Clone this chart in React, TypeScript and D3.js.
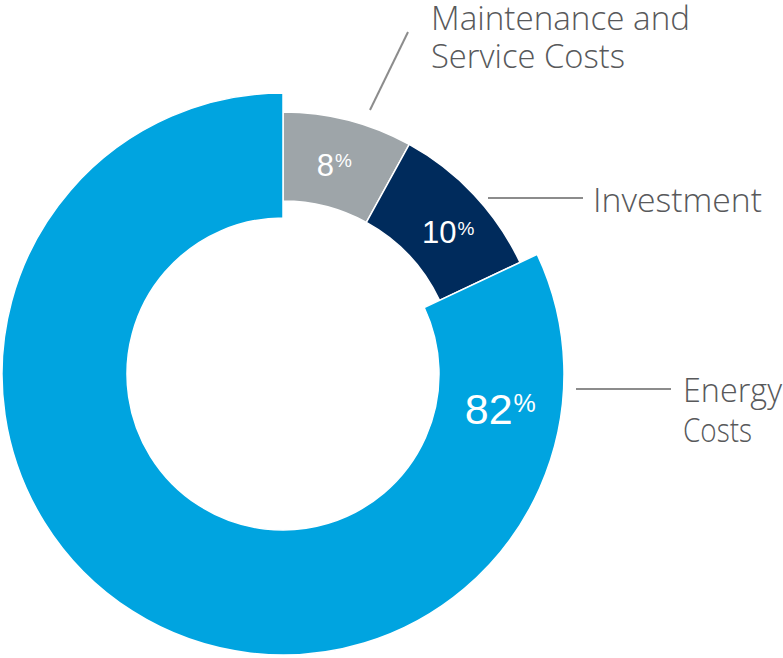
import React from "react";
import * as d3 from "d3";

const categories = ["Maintenance and Service Costs", "Investment", "Energy Costs"];
const values = [8, 10, 82];
const valueLabels = ["8", "10", "82"];
const legendLines = [["Maintenance and", "Service Costs"], ["Investment"], ["Energy", "Costs"]];

const W = 783;
const H = 658;
const cx = 283;
const cy = 374;

const colors = ["#9ea5a9", "#002b5c", "#00a4e0"];
const radii = [
  { inner: 173, outer: 262 },
  { inner: 173, outer: 262 },
  { inner: 156, outer: 281 },
];
const valueStyle = [
  { angle: 13.8, r: 215, fs: 31, pfs: 19, pdy: -9, pdx: 1 },
  { angle: 49.3, r: 218, fs: 31, pfs: 19, pdy: -8, pdx: 1 },
  { angle: 99, r: 220, fs: 43, pfs: 25, pdy: -12, pdx: 1 },
];
// leader lines and label text positions
const leaders = [
  { x1: 370, y1: 110, x2: 408, y2: 32, tx: 431, ty: 30, lh: 38, widths: [259, 194] },
  { x1: 488, y1: 198, x2: 583, y2: 198, tx: 593, ty: 212, lh: 38, widths: [169] },
  { x1: 576, y1: 389, x2: 671, y2: 389, tx: 683, ty: 402, lh: 40, widths: [99, 69] },
];

export default function App() {
  const pie = d3.pie<number>().sort(null).startAngle(0).endAngle(2 * Math.PI);
  const arcs = pie(values);

  return (
    <svg
      width={W}
      height={H}
      viewBox={`0 0 ${W} ${H}`}
      style={{ position: "absolute", left: 0, top: 0, display: "block", background: "#fff" }}
    >
      <g transform={`translate(${cx},${cy})`}>
        {arcs.map((a, i) => {
          const path = d3
            .arc<d3.PieArcDatum<number>>()
            .innerRadius(radii[i].inner)
            .outerRadius(radii[i].outer)(a) as string;
          return (
            <path
              key={categories[i]}
              d={path}
              fill={colors[i]}
              stroke="#ffffff"
              strokeWidth={1.5}
            />
          );
        })}
        {arcs.map((a, i) => {
          const s = valueStyle[i];
          const rad = (s.angle * Math.PI) / 180;
          const x = s.r * Math.sin(rad);
          const y = -s.r * Math.cos(rad);
          return (
            <text
              key={"v" + i}
              x={x}
              y={y}
              dy="0.36em"
              textAnchor="middle"
              fill="#ffffff"
              fontFamily="'Liberation Sans', Arial, Helvetica, sans-serif"
              fontSize={s.fs}
            >
              {valueLabels[i]}
              <tspan fontSize={s.pfs} dy={s.pdy} dx={s.pdx}>
                %
              </tspan>
            </text>
          );
        })}
      </g>
      {leaders.map((l, i) => (
        <g key={"l" + i}>
          <line x1={l.x1} y1={l.y1} x2={l.x2} y2={l.y2} stroke="#8c8c8c" strokeWidth={2} />
          {legendLines[i].map((t, j) => (
            <text
              key={j}
              x={l.tx}
              y={l.ty + j * l.lh}
              fill="#58595b"
              fontFamily="'Open Sans', 'Noto Sans', sans-serif"
              fontWeight={300}
              fontSize={33}
              textLength={l.widths[j]}
              lengthAdjust="spacingAndGlyphs"
            >
              {t}
            </text>
          ))}
        </g>
      ))}
    </svg>
  );
}
